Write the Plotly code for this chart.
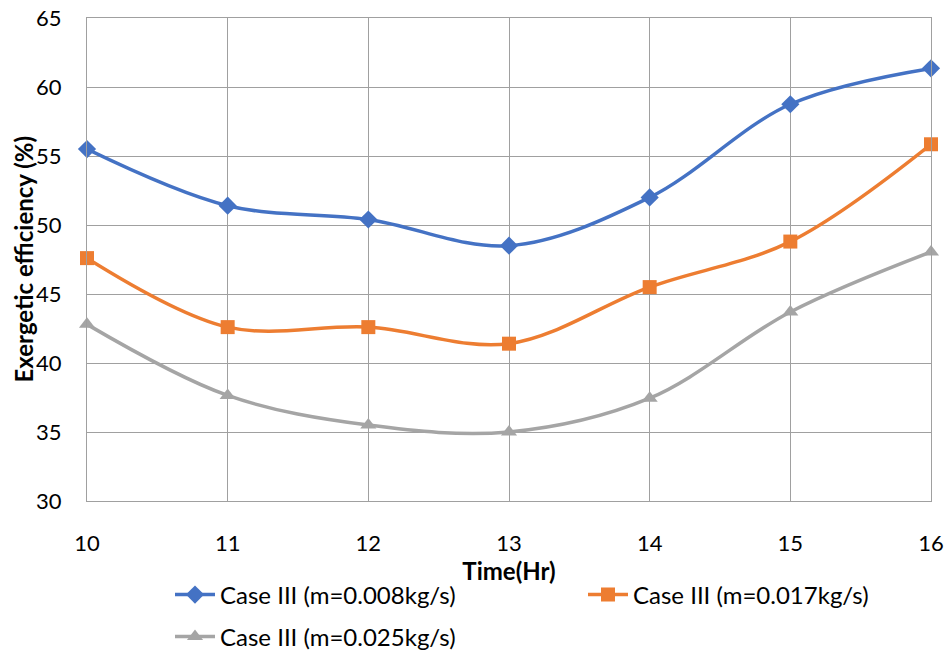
import plotly.graph_objects as go

# Hour of day
hours = [10, 11, 12, 13, 14, 15, 16]

# Exergetic efficiency (%) for each mass flow rate
eff_m008 = [55.5, 51.4, 50.4, 48.5, 52.0, 58.75, 61.35]
eff_m017 = [47.6, 42.6, 42.6, 41.4, 45.5, 48.8, 55.85]
eff_m025 = [42.8, 37.65, 35.5, 35.0, 37.45, 43.7, 48.05]

series_names = [
    "Case III (m=0.008kg/s)",
    "Case III (m=0.017kg/s)",
    "Case III (m=0.025kg/s)",
]
series_values = [eff_m008, eff_m017, eff_m025]
series_colors = ["#4472C4", "#ED7D31", "#A5A5A5"]
series_symbols = ["diamond", "square", "triangle-up"]
legend_ids = ["legend", "legend2", "legend3"]

x_ticks = [10, 11, 12, 13, 14, 15, 16]
y_ticks = [30, 35, 40, 45, 50, 55, 60, 65]

FONT = "Lato, 'Open Sans', sans-serif"
GRID = "#A0A0A0"
W, H = 947, 655

fig = go.Figure()
for name, vals, col, sym, lg in zip(series_names, series_values, series_colors,
                                     series_symbols, legend_ids):
    fig.add_trace(go.Scatter(
        x=hours, y=vals, name=name, mode="lines+markers",
        line=dict(color=col, width=3.5, shape="spline", smoothing=1),
        marker=dict(symbol=sym, size=14, color=col),
        cliponaxis=False, legend=lg, showlegend=True,
    ))


def legend_box(left_px, mid_px):
    return dict(
        xref="container", yref="container",
        x=left_px / W, xanchor="left",
        y=1 - mid_px / H, yanchor="middle",
        font=dict(family=FONT, size=24, color="#000000"),
        itemwidth=40, bgcolor="rgba(0,0,0,0)",
    )


fig.update_layout(
    width=W, height=H,
    showlegend=True,
    margin=dict(l=87, r=16, t=18, b=154, autoexpand=False),
    paper_bgcolor="white", plot_bgcolor="white",
    font=dict(family=FONT, color="#000000"),
    legend=legend_box(170, 595),
    legend2=legend_box(583, 595),
    legend3=legend_box(170, 637),
    xaxis=dict(
        range=[10, 16], tickvals=x_ticks, ticktext=[str(t) for t in x_ticks],
        showgrid=True, gridcolor=GRID, gridwidth=1,
        showline=True, linecolor=GRID, linewidth=1, mirror=True,
        zeroline=False, ticks="", ticklabelstandoff=23, automargin=False,
        tickfont=dict(family=FONT, size=22),
        title=dict(text="<b>Time(Hr)</b>", font=dict(family=FONT, size=24), standoff=1),
    ),
    yaxis=dict(
        range=[30, 65], tickvals=y_ticks, ticktext=[str(t) for t in y_ticks],
        showgrid=True, gridcolor=GRID, gridwidth=1,
        showline=True, linecolor=GRID, linewidth=1, mirror=True,
        zeroline=False, ticks="", ticklabelstandoff=20, automargin=False,
        tickfont=dict(family=FONT, size=22),
    ),
    annotations=[dict(
        text="<b>Exergetic efficiency (%)</b>", textangle=-90,
        xref="paper", yref="paper", x=(23 - 87) / (W - 87 - 16), y=0.5,
        xanchor="center", yanchor="middle", showarrow=False,
        font=dict(family=FONT, size=24, color="#000000"),
    )],
)

fig.write_html("out.html")
